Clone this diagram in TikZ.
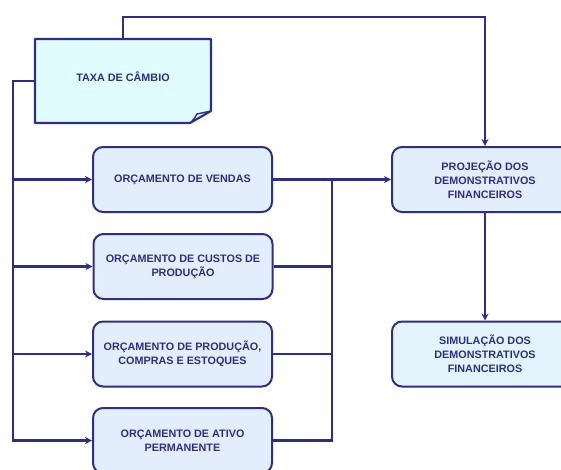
\documentclass[tikz,border=0pt]{standalone}
\usepackage{fontspec}
\setmainfont{Liberation Sans}
\usetikzlibrary{arrows.meta}
\definecolor{navy}{HTML}{2E2E86}
\definecolor{boxfill}{HTML}{E3EEFC}
\definecolor{simfill}{HTML}{E4F4FD}
\definecolor{notefill}{HTML}{E0FCFE}
\tikzset{
  flow/.style={draw=navy, line width=2.1pt},
  arr/.style={flow, -{Stealth[length=7pt,width=7pt]}},
  label/.style={font=\fontsize{10.8}{14.2}\selectfont\bfseries, text=navy, align=center},
  budget/.style={label, draw=navy, line width=2pt, fill=boxfill, rounded corners=10pt,
    minimum width=179pt, minimum height=65pt, inner sep=0pt},
  report/.style={budget, minimum width=186pt},
}
\begin{document}
\begin{tikzpicture}[x=1pt,y=-1pt]
  \clip (0,0) rectangle (561,469);
  \fill[white] (0,0) rectangle (561,469);

  % exchange-rate note with folded corner
  \node[label, minimum width=176pt, minimum height=84pt, inner sep=0pt] (taxa) at (123,81) {};
  \draw[flow, fill=notefill, line join=round]
    (35,39) -- (211,39) -- (211,111) -- (190,123) -- (35,123) -- cycle;
  \draw[flow, line width=1.4pt, line join=round]
    (211,111) .. controls (204,113) .. (197,114) .. controls (195,118) .. (190,123);
  \node[label] at (123,77) {TAXA DE CÂMBIO};

  % budget boxes
  \node[budget] (vendas)   at (182.5,179.5) {ORÇAMENTO DE VENDAS};
  \node[budget] (custos)   at (183,266.5)   {ORÇAMENTO DE CUSTOS DE\\PRODUÇÃO};
  \node[budget] (producao) at (182.5,354)   {ORÇAMENTO DE PRODUÇÃO,\\COMPRAS E ESTOQUES};
  \node[budget] (ativo)    at (182.5,440.5) {ORÇAMENTO DE ATIVO\\PERMANENTE};

  % financial statement boxes
  \node[report] (proj) at (485,179.5) {PROJEÇÃO DOS\\DEMONSTRATIVOS\\FINANCEIROS};
  \node[report, fill=simfill] (sim) at (485,354) {SIMULAÇÃO DOS\\DEMONSTRATIVOS\\FINANCEIROS};

  % bus lines
  \coordinate (busL) at (13,0);
  \coordinate (busR) at (332,0);

  % exchange rate feeds the projection directly
  \draw[arr] (taxa.north) -- +(0,-22) -| (proj.north);

  % exchange rate feeds every budget
  \draw[arr] (taxa.west) -| (busL |- ativo.west) -- (ativo.west);
  \draw[arr] (busL |- vendas.west) -- (vendas.west);
  \draw[arr] (busL |- custos.west) -- (custos.west);
  \draw[arr] (busL |- producao.west) -- (producao.west);

  % budgets feed the projection
  \draw[arr] (vendas.east) -- (proj.west);
  \draw[flow] (ativo.east) -| (busR |- vendas.east);
  \draw[flow] (custos.east) -- (busR |- custos.east);
  \draw[flow] (producao.east) -- (busR |- producao.east);

  % projection leads to simulation
  \draw[arr] (proj.south) -- (sim.north);
\end{tikzpicture}
\end{document}
